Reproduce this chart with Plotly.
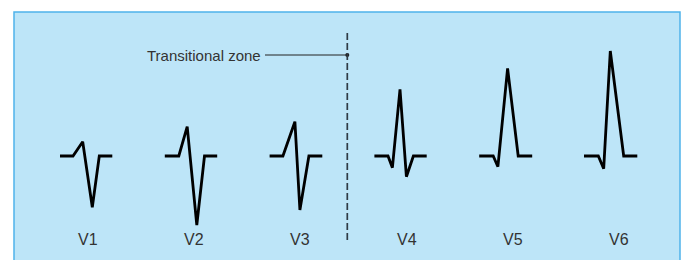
import plotly.graph_objects as go

# ---- data ----
leads = ["V1", "V2", "V3", "V4", "V5", "V6"]
# time points of each complex (relative to its start, px-like units)
t_V1 = [0, 13, 22.7, 32.3, 39.3, 52.3]
a_V1 = [0, 0, 1.43, -5.13, 0, 0]
t_V2 = [0, 14, 22.4, 32, 39.7, 52.4]
a_V2 = [0, 0, 2.93, -6.9, 0, 0]
t_V3 = [0, 13.3, 25.3, 30.3, 39.3, 52.7]
a_V3 = [0, 0, 3.43, -5.4, 0, 0]
t_V4 = [0, 13.6, 18, 25.6, 32, 39, 52.3]
a_V4 = [0, 0, -1.17, 6.67, -2.07, 0, 0]
t_V5 = [0, 14, 18.7, 28.4, 39, 53]
a_V5 = [0, 0, -1.07, 8.77, 0, 0]
t_V6 = [0, 14.3, 19.7, 26.3, 39.7, 53.3]
a_V6 = [0, 0, -1.27, 10.5, 0, 0]
times = [t_V1, t_V2, t_V3, t_V4, t_V5, t_V6]
amps = [a_V1, a_V2, a_V3, a_V4, a_V5, a_V6]
transition_label = "Transitional zone"
transition_after = 3  # zone between V3 and V4

# ---- layout constants ----
W, H = 687, 260
first_start, spacing = 60, 104.8
label_first, label_spacing = 88, 106.2
y_top, y_bottom = 15.6, -10.4
font_family = "Liberation Sans, Arial, Helvetica, sans-serif"
txt_col = "#333333"

fig = go.Figure()
for i, name in enumerate(leads):
    x0 = first_start + i * spacing
    fig.add_trace(go.Scatter(
        x=[x0 + t for t in times[i]], y=amps[i], mode="lines",
        line=dict(color="black", width=2.8), hoverinfo="skip", showlegend=False))
    fig.add_annotation(x=label_first + i * label_spacing, y=-8.3, text=name,
                       showarrow=False, font=dict(family=font_family, size=16, color=txt_col),
                       xanchor="center", yanchor="middle")

# transitional zone divider
x_div = first_start + (transition_after - 1) * spacing + 52.7 + 25
fig.add_shape(type="line", x0=x_div, x1=x_div, y0=12.3, y1=-8.7,
              line=dict(color="#2f3b45", width=1.7, dash="7px,3px"))
fig.add_shape(type="line", x0=265, x1=x_div, y0=10.1, y1=10.1,
              line=dict(color="#222222", width=1))
fig.add_trace(go.Scatter(x=[x_div], y=[10.1], mode="markers",
                         marker=dict(color="#222222", size=4), hoverinfo="skip", showlegend=False))
fig.add_annotation(x=263, y=10.1, text=transition_label, showarrow=False,
                   xanchor="right", yanchor="middle",
                   font=dict(family=font_family, size=15, color=txt_col))

# background box
fig.add_shape(type="rect", xref="paper", yref="paper",
              x0=14 / W, x1=680 / W, y0=-0.05, y1=1 - 12 / H,
              fillcolor="#bde5f8", line=dict(color="#4fb3ea", width=1.5), layer="below")

fig.update_layout(
    width=W, height=H, margin=dict(l=0, r=0, t=0, b=0),
    paper_bgcolor="white", plot_bgcolor="rgba(0,0,0,0)",
    xaxis=dict(range=[0, W], visible=False, fixedrange=True),
    yaxis=dict(range=[y_bottom, y_top], visible=False, fixedrange=True),
)
fig.write_html("out.html", config={"displayModeBar": False},
               post_script="document.body.style.margin='0';document.body.style.overflow='hidden';")
